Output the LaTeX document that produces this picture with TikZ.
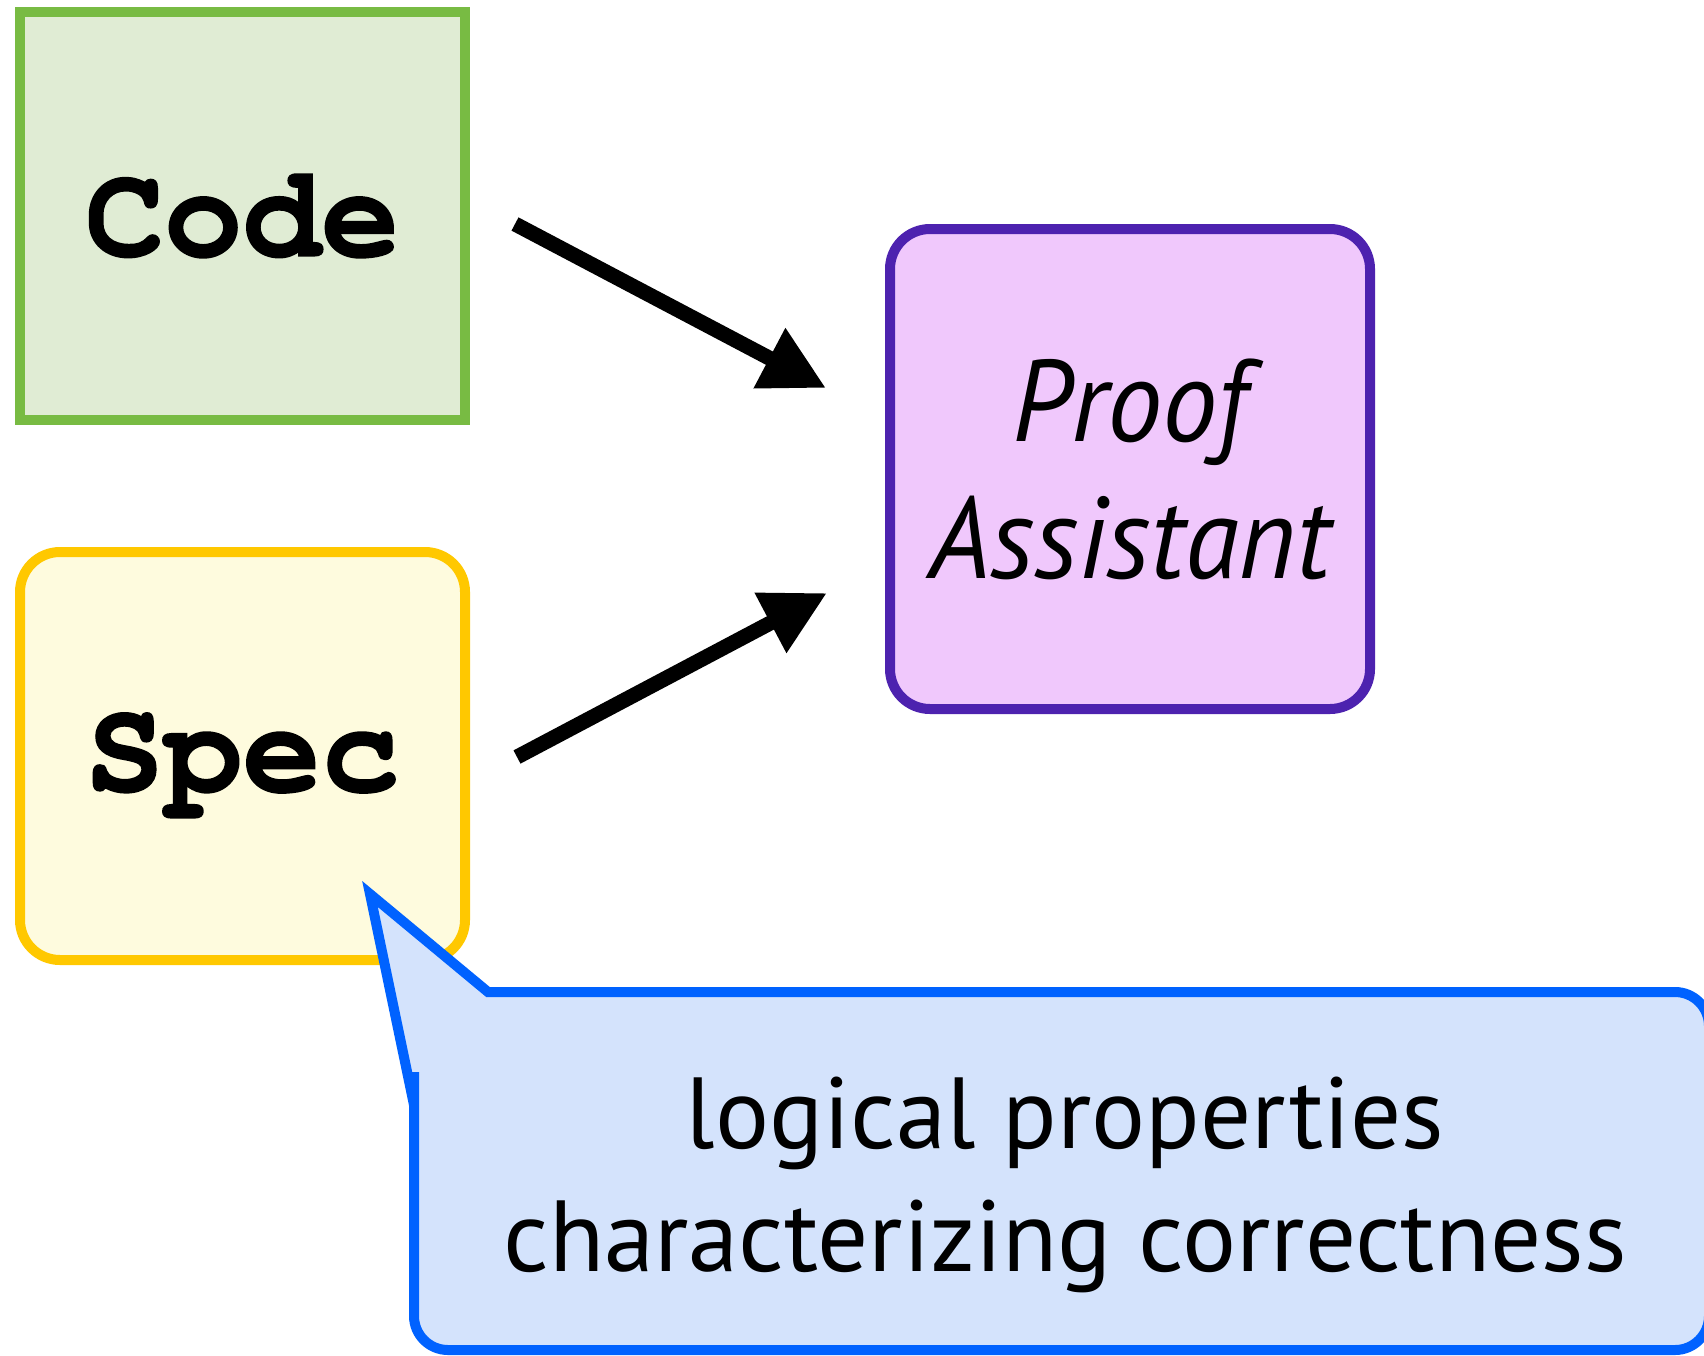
\documentclass[tikz,border=0pt]{standalone}
\usepackage{fontspec}
\setmainfont{PT Sans}
\newfontfamily\boxmono[FakeBold=1.2]{texgyrecursor-bold.otf}
\newfontfamily\propfont[FakeStretch=0.95]{PT Sans}
\newfontfamily\callfont{PT Sans}
\usetikzlibrary{arrows.meta}
\definecolor{codefill}{RGB}{224,236,212}
\definecolor{codeline}{RGB}{120,187,67}
\definecolor{specfill}{RGB}{254,251,222}
\definecolor{specline}{RGB}{255,200,0}
\definecolor{prooffill}{RGB}{240,200,252}
\definecolor{proofline}{RGB}{77,34,175}
\definecolor{callfill}{RGB}{212,227,252}
\definecolor{callline}{RGB}{0,98,255}
\begin{document}
\begin{tikzpicture}[x=1pt,y=-1pt,
  box/.style={draw, line width=10pt, minimum width=445pt, minimum height=408pt, inner sep=0pt, outer sep=0pt},
  mono/.style={font=\boxmono\fontsize{131}{160}\selectfont},
  arr/.style={line width=15pt, -{Triangle[length=64pt,width=64pt]}},
  callout/.style={line width=10pt, draw=callline, fill=callfill, line join=miter}]
\useasboundingbox (0,0) rectangle (1704,1355);
\clip (0,0) rectangle (1704,1355);
\node[box, draw=codeline, fill=codefill, mono] (code) at (242.5,216) {Code};
\node[box, rounded corners=40pt, draw=specline, fill=specfill, mono, text height=80pt, text depth=10pt] (spec) at (242.5,756) {Spec};
\node[draw=proofline, fill=prooffill, line width=10pt, rounded corners=40pt,
      minimum width=480pt, minimum height=480pt, inner sep=0pt, align=center,
      font=\propfont\itshape\fontsize{116}{137}\selectfont] (proof) at (1130,469) {Proof\\Assistant};
\coordinate (a1s) at (515,224);
\coordinate (a1e) at (826,388);
\coordinate (a2s) at (517,757);
\coordinate (a2e) at (827,593);
\draw[arr] (a1s) -- (a1e);
\draw[arr] (a2s) -- (a2e);
\coordinate (tip) at (370,894);
\draw[callout] (tip) -- (488,992) -- (489,992) [rounded corners=34pt] -- (1709,992) -- (1709,1350) -- (414,1350) -- (414,1106) [sharp corners] -- (414,1105) -- cycle;
\node[font=\callfont\fontsize{101}{123}\selectfont, align=center] (note) at (1065,1185) {logical properties\\characterizing correctness};
\end{tikzpicture}
\end{document}
